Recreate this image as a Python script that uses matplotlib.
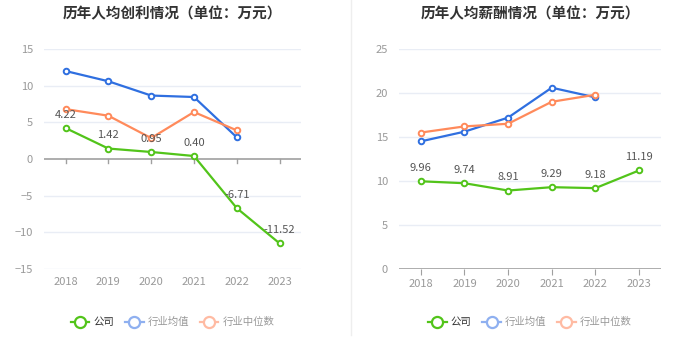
import matplotlib.pyplot as plt
from matplotlib.lines import Line2D

plt.rcParams['font.family'] = ['Noto Sans CJK SC', 'DejaVu Sans']

years = ['2018', '2019', '2020', '2021', '2022', '2023']

# 历年人均创利
profit_company = [4.22, 1.42, 0.95, 0.40, -6.71, -11.52]
profit_avg = [12.0, 10.6, 8.65, 8.45, 2.95]
profit_median = [6.8, 5.9, 2.85, 6.4, 3.9]

# 历年人均薪酬
salary_company = [9.96, 9.74, 8.91, 9.29, 9.18, 11.19]
salary_avg = [14.5, 15.6, 17.2, 20.6, 19.5]
salary_median = [15.5, 16.2, 16.5, 19.0, 19.8]

GREEN = '#52c41a'
BLUE = '#2f6fe0'
ORANGE = '#ff8a5b'
GRID = '#e9edf5'
TICK = '#999999'


def draw(ax, title, company, avg, median, ylim, yticks, zero_axis):
    x = list(range(len(years)))
    for vals, c in [(avg, BLUE), (median, ORANGE), (company, GREEN)]:
        ax.plot(x[:len(vals)], vals, color=c, lw=1.6, marker='o', ms=4,
                mfc='white', mec=c, mew=1.4, zorder=3)
    for xi, v in zip(x, company):
        ax.annotate(f'{v:.2f}', (xi, v), xytext=(0, 6), textcoords='offset points',
                    ha='center', va='bottom', fontsize=8, color='#555555', zorder=4)
    ax.set_xlim(-0.5, len(years) - 0.5)
    ax.set_ylim(*ylim)
    ax.set_yticks(yticks)
    ax.set_xticks(x)
    ax.set_xticklabels(years)
    for s in ax.spines.values():
        s.set_visible(False)
    for t in yticks:
        if t != 0:
            ax.axhline(t, color=GRID, lw=1, zorder=0)
    ax.axhline(0, color='#a0a0a0', lw=1.2, zorder=1)
    ax.tick_params(axis='y', length=0, colors=TICK, labelsize=8, pad=8)
    ax.tick_params(axis='x', length=4, color='#a0a0a0', colors=TICK, labelsize=8,
                   pad=6 if zero_axis else 3, direction='out')
    ax.set_title(title, fontsize=10.5, fontweight='bold', color='#333333', pad=22)
    if zero_axis:
        # x ticks hang from the zero line, labels sit at the bottom
        ax.tick_params(axis='x', length=0)
        for xi in x:
            ax.plot([xi, xi], [0, -0.6], color='#a0a0a0', lw=1, clip_on=False, zorder=1)

    handles = [
        Line2D([], [], color=GREEN, lw=1.6, marker='o', ms=8, mfc='white', mec=GREEN, mew=1.6),
        Line2D([], [], color='#8fb0f0', lw=1.6, marker='o', ms=8, mfc='white', mec='#8fb0f0', mew=1.6),
        Line2D([], [], color='#ffbba3', lw=1.6, marker='o', ms=8, mfc='white', mec='#ffbba3', mew=1.6),
    ]
    leg = ax.legend(handles, ['公司', '行业均值', '行业中位数'], loc='center',
                    bbox_to_anchor=(0.5, -0.242), ncol=3, frameon=False, fontsize=7.5,
                    handlelength=1.8, columnspacing=1.0, handletextpad=0.4)
    for t, c in zip(leg.get_texts(), ['#333333', '#999999', '#999999']):
        t.set_color(c)


fig = plt.figure(figsize=(7, 3.59), dpi=100)
ax1 = fig.add_axes([0.063, 0.251, 0.367, 0.6125])
ax2 = fig.add_axes([0.570, 0.251, 0.374, 0.6125])

draw(ax1, '历年人均创利情况（单位：万元）', profit_company, profit_avg, profit_median,
     (-15, 15), [-15, -10, -5, 0, 5, 10, 15], True)
draw(ax2, '历年人均薪酬情况（单位：万元）', salary_company, salary_avg, salary_median,
     (0, 25), [0, 5, 10, 15, 20, 25], False)

fig.add_artist(Line2D([351 / 700, 351 / 700], [1 - 335 / 359, 1], color='#eeeeee', lw=1))

fig.savefig('out.png', dpi=100)
